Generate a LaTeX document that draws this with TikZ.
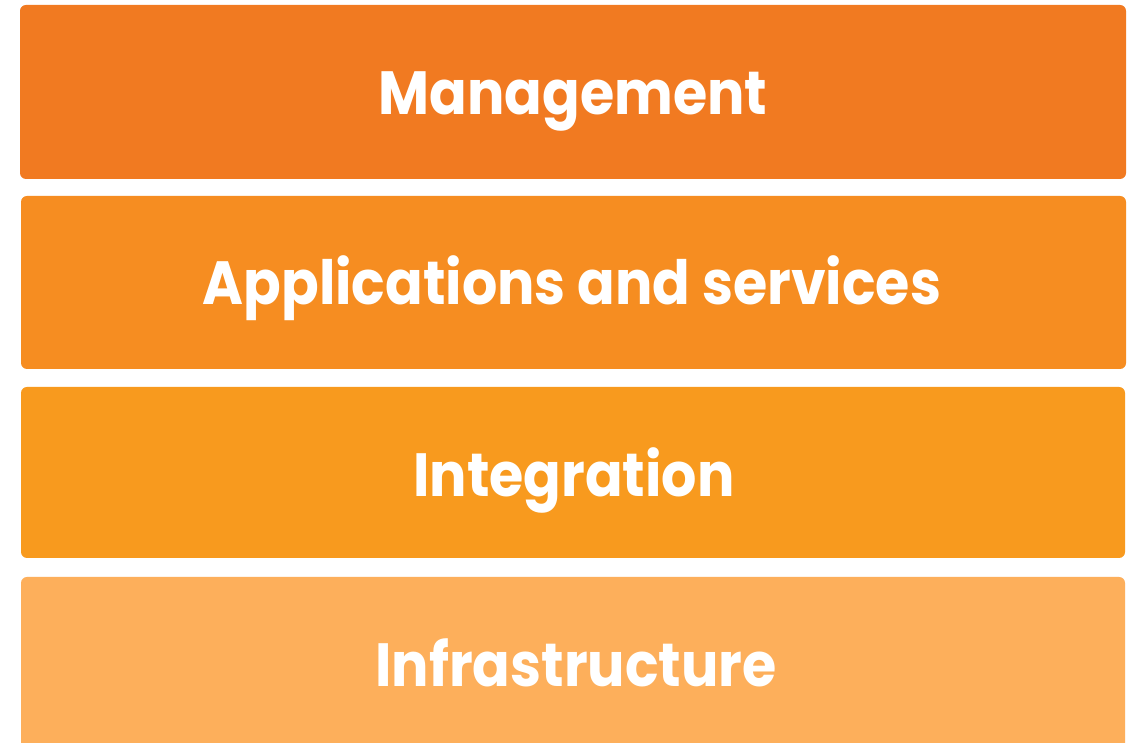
\documentclass[tikz,border=0pt]{standalone}
\usepackage{fontspec}
\setmainfont[Ligatures={NoCommon,NoRare,NoDiscretionary},FakeStretch=0.91]{Poppins}
\definecolor{cA}{HTML}{F17A21}
\definecolor{cB}{HTML}{F68D21}
\definecolor{cC}{HTML}{F89A1E}
\definecolor{cD}{HTML}{FDAF5B}
\tikzset{
  layer/.style={rounded corners=6pt},
  label/.style={anchor=base, text=white, inner sep=0pt, font=\fontsize{61}{61}\selectfont\bfseries}
}
\begin{document}
\begin{tikzpicture}[x=1pt,y=1pt]
\useasboundingbox (0,0) rectangle (1132,743);
\fill[white] (0,0) rectangle (1132,743);
\fill[layer, cA] (20,743-179) rectangle (1126,743-5);
\fill[layer, cB] (21,743-369) rectangle (1126,743-196);
\fill[layer, cC] (21,743-558) rectangle (1125,743-387);
\fill[layer, cD] (21,743-749) rectangle (1125,743-577);
\node[label] (m) at (573,743-115) {Management};
\node[label] (a) at (572,743-305) {Applications and services};
\node[label] (i) at (574,743-497) {Integration};
\node[label] (f) at (576,743-687) {Infrastructure};
\end{tikzpicture}
\end{document}
